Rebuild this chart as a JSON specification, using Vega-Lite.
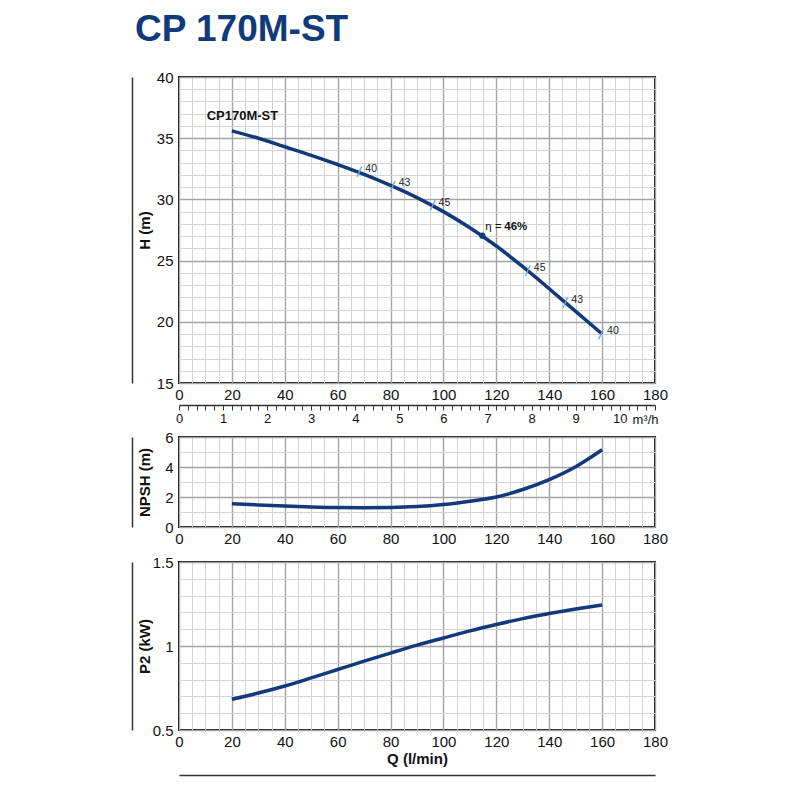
{
  "$schema": "https://vega.github.io/schema/vega-lite/v6.json",
  "padding": {"left": 131, "top": 11, "right": 10, "bottom": 10},
  "background": "white",
  "title": {"text": "CP 170M-ST", "anchor": "start", "font": "Liberation Sans", "fontSize": 37, "fontWeight": "bold", "color": "#0f3b7c", "offset": 20, "dx": 4},
  "datasets": {
    "h": [
      {"q": 20, "v": 35.6}, {"q": 30, "v": 35.0}, {"q": 40, "v": 34.3}, {"q": 50, "v": 33.6},
      {"q": 60, "v": 32.85}, {"q": 70, "v": 32.05}, {"q": 80, "v": 31.15}, {"q": 90, "v": 30.15},
      {"q": 100, "v": 29.0}, {"q": 110, "v": 27.68}, {"q": 120, "v": 26.19}, {"q": 130, "v": 24.5},
      {"q": 140, "v": 22.7}, {"q": 150, "v": 20.85}, {"q": 160, "v": 19.0}
    ],
    "eff": [
      {"q": 68.2, "v": 32.25, "t": "40"}, {"q": 80.8, "v": 31.07, "t": "43"}, {"q": 95.9, "v": 29.5, "t": "45"},
      {"q": 131.9, "v": 24.17, "t": "45"}, {"q": 146.1, "v": 21.55, "t": "43"}, {"q": 159.6, "v": 19.0, "t": "40"}
    ],
    "best": [{"q": 114.7, "v": 27.04, "a": "η =", "b": "46%"}],
    "name": [{"q": 24, "v": 36.8, "t": "CP170M-ST"}],
    "ref": [{"q": 0}],
    "npsh": [
      {"q": 20, "v": 1.55}, {"q": 30, "v": 1.47}, {"q": 40, "v": 1.40}, {"q": 50, "v": 1.34},
      {"q": 60, "v": 1.30}, {"q": 70, "v": 1.29}, {"q": 80, "v": 1.30}, {"q": 90, "v": 1.36},
      {"q": 100, "v": 1.50}, {"q": 110, "v": 1.72}, {"q": 120, "v": 2.0}, {"q": 130, "v": 2.5},
      {"q": 140, "v": 3.16}, {"q": 150, "v": 4.02}, {"q": 160, "v": 5.15}
    ],
    "p2": [
      {"q": 20, "v": 0.683}, {"q": 30, "v": 0.72}, {"q": 40, "v": 0.762}, {"q": 50, "v": 0.81},
      {"q": 60, "v": 0.86}, {"q": 70, "v": 0.91}, {"q": 80, "v": 0.958}, {"q": 90, "v": 1.005},
      {"q": 100, "v": 1.048}, {"q": 110, "v": 1.09}, {"q": 120, "v": 1.128}, {"q": 130, "v": 1.163},
      {"q": 140, "v": 1.193}, {"q": 150, "v": 1.22}, {"q": 160, "v": 1.244}
    ]
  },
  "spacing": 3,
  "vconcat": [
    {
      "spacing": -2,
      "vconcat": [
        {
          "width": 476,
          "height": 306,
          "encoding": {
            "x": {"field": "q", "type": "quantitative", "scale": {"domain": [0, 180], "nice": false},
              "axis": {"values": [0,5,10,15,20,25,30,35,40,45,50,55,60,65,70,75,80,85,90,95,100,105,110,115,120,125,130,135,140,145,150,155,160,165,170,175,180],
                "labelExpr": "datum.value % 20 === 0 ? datum.label : ''", "labelOverlap": false, "labelFlush": false,
                "ticks": false, "domain": false, "labelPadding": 4, "title": null,
                "gridColor": {"condition": {"test": "datum.value % 20 === 0", "value": "#a3a3a3"}, "value": "#d4d4d4"},
                "gridWidth": {"condition": {"test": "datum.value % 20 === 0", "value": 1.4}, "value": 1}}},
            "y": {"field": "v", "type": "quantitative", "scale": {"domain": [15, 40], "nice": false},
              "axis": {"values": [15,16,17,18,19,20,21,22,23,24,25,26,27,28,29,30,31,32,33,34,35,36,37,38,39,40],
                "labelExpr": "datum.value % 5 === 0 ? datum.label : ''", "labelOverlap": false, "labelFlush": false,
                "ticks": false, "domain": true, "domainColor": "#333", "domainWidth": 1.5, "offset": 47, "labelPadding": -41,
                "title": "H (m)", "titleX": 20, "titleY": 153, "titleAngle": -90, "titleBaseline": "bottom",
                "gridColor": {"condition": {"test": "datum.value % 5 === 0", "value": "#a3a3a3"}, "value": "#d4d4d4"},
                "gridWidth": {"condition": {"test": "datum.value % 5 === 0", "value": 1.4}, "value": 1}}}
          },
          "layer": [
            {
              "data": {"name": "h"},
              "mark": {"type": "line", "color": "#12397a", "strokeWidth": 3.5, "interpolate": "monotone"}
            },
            {
              "data": {"name": "eff"},
              "mark": {"type": "point", "shape": "M-0.45,1L0.45,-1", "filled": false, "size": 110, "stroke": "#6fa8dc", "strokeWidth": 1.3, "opacity": 1}
            },
            {
              "data": {"name": "eff"},
              "mark": {"type": "text", "align": "left", "dx": 6, "dy": -3, "fontSize": 10.5, "color": "#222"},
              "encoding": {"text": {"field": "t"}}
            },
            {
              "data": {"name": "best"},
              "mark": {"type": "point", "filled": true, "size": 40, "color": "#12397a", "opacity": 1}
            },
            {
              "data": {"name": "best"},
              "mark": {"type": "text", "align": "left", "dx": 3, "dy": -9, "fontSize": 11.5, "color": "#111"},
              "encoding": {"text": {"field": "a"}}
            },
            {
              "data": {"name": "best"},
              "mark": {"type": "text", "align": "left", "dx": 22, "dy": -9, "fontSize": 11.5, "fontWeight": "bold", "color": "#111"},
              "encoding": {"text": {"field": "b"}}
            },
            {
              "data": {"name": "name"},
              "mark": {"type": "text", "align": "center", "fontSize": 13, "fontWeight": "bold", "color": "#111"},
              "encoding": {"text": {"field": "t"}}
            }
          ]
        },
        {
          "width": 476,
          "height": 1,
          "view": {"stroke": null},
          "data": {"name": "ref"},
          "mark": {"type": "point", "opacity": 0},
          "encoding": {
            "x": {"field": "q", "type": "quantitative", "scale": {"domain": [0, 180], "nice": false},
              "axis": {"orient": "bottom",
                "values": [0,3.33333,6.66667,10,13.33333,16.66667,20,23.33333,26.66667,30,33.33333,36.66667,40,43.33333,46.66667,50,53.33333,56.66667,60,63.33333,66.66667,70,73.33333,76.66667,80,83.33333,86.66667,90,93.33333,96.66667,100,103.33333,106.66667,110,113.33333,116.66667,120,123.33333,126.66667,130,133.33333,136.66667,140,143.33333,146.66667,150,153.33333,156.66667,160,163.33333,166.66667,170,173.33333,176.66667,180],
                "labelExpr": "abs(datum.value / 16.666667 - round(datum.value / 16.666667)) < 0.01 ? format(round(datum.value / 16.666667), 'd') : ''",
                "labelOverlap": false, "labelFlush": false, "labelFontSize": 13, "labelPadding": 2,
                "ticks": true, "tickSize": 5, "tickColor": "#333", "tickWidth": 1,
                "domain": true, "domainColor": "#333", "domainWidth": 1.3, "grid": false,
                "title": "m³/h", "titleX": 466, "titleY": 14, "titleAlign": "center", "titleBaseline": "middle",
                "titleFontWeight": "normal", "titleFontSize": 13}}
          }
        }
      ]
    },
    {
      "spacing": 7,
      "vconcat": [
        {
          "width": 476,
          "height": 90,
          "data": {"name": "npsh"},
          "mark": {"type": "line", "color": "#12397a", "strokeWidth": 3.5, "interpolate": "monotone"},
          "encoding": {
            "x": {"field": "q", "type": "quantitative", "scale": {"domain": [0, 180], "nice": false},
              "axis": {"values": [0,5,10,15,20,25,30,35,40,45,50,55,60,65,70,75,80,85,90,95,100,105,110,115,120,125,130,135,140,145,150,155,160,165,170,175,180],
                "labelExpr": "datum.value % 20 === 0 ? datum.label : ''", "labelOverlap": false, "labelFlush": false,
                "ticks": false, "domain": false, "labelPadding": 4, "title": null,
                "gridColor": {"condition": {"test": "datum.value % 20 === 0", "value": "#a3a3a3"}, "value": "#d4d4d4"},
                "gridWidth": {"condition": {"test": "datum.value % 20 === 0", "value": 1.4}, "value": 1}}},
            "y": {"field": "v", "type": "quantitative", "scale": {"domain": [0, 6], "nice": false},
              "axis": {"values": [0,1,2,3,4,5,6],
                "labelExpr": "datum.value % 2 === 0 ? datum.label : ''", "labelOverlap": false, "labelFlush": false,
                "ticks": false, "domain": true, "domainColor": "#333", "domainWidth": 1.5, "offset": 47, "labelPadding": -41,
                "title": "NPSH (m)", "titleX": 20, "titleY": 45, "titleAngle": -90, "titleBaseline": "bottom",
                "gridColor": {"condition": {"test": "datum.value % 2 === 0", "value": "#a3a3a3"}, "value": "#d4d4d4"},
                "gridWidth": {"condition": {"test": "datum.value % 2 === 0", "value": 1.4}, "value": 1}}}
          }
        },
        {
          "width": 476,
          "height": 168,
          "data": {"name": "p2"},
          "mark": {"type": "line", "color": "#12397a", "strokeWidth": 3.5, "interpolate": "monotone"},
          "encoding": {
            "x": {"field": "q", "type": "quantitative", "scale": {"domain": [0, 180], "nice": false},
              "axis": {"values": [0,5,10,15,20,25,30,35,40,45,50,55,60,65,70,75,80,85,90,95,100,105,110,115,120,125,130,135,140,145,150,155,160,165,170,175,180],
                "labelExpr": "datum.value % 20 === 0 ? datum.label : ''", "labelOverlap": false, "labelFlush": false,
                "ticks": false, "domain": true, "domainColor": "#333", "domainWidth": 1.5, "offset": 45, "labelPadding": -41,
                "title": "Q (l/min)", "titleX": 238, "titleY": -17, "titleBaseline": "middle", "titleAlign": "center",
                "gridColor": {"condition": {"test": "datum.value % 20 === 0", "value": "#a3a3a3"}, "value": "#d4d4d4"},
                "gridWidth": {"condition": {"test": "datum.value % 20 === 0", "value": 1.4}, "value": 1}}},
            "y": {"field": "v", "type": "quantitative", "scale": {"domain": [0.5, 1.5], "nice": false},
              "axis": {"values": [0.5,0.6,0.7,0.8,0.9,1,1.1,1.2,1.3,1.4,1.5],
                "labelExpr": "round(datum.value * 10) % 5 === 0 ? '' + datum.value : ''", "labelOverlap": false, "labelFlush": false,
                "ticks": false, "domain": true, "domainColor": "#333", "domainWidth": 1.5, "offset": 47, "labelPadding": -41,
                "title": "P2 (kW)", "titleX": 20, "titleY": 84, "titleAngle": -90, "titleBaseline": "bottom",
                "gridColor": {"condition": {"test": "round(datum.value * 10) % 5 === 0", "value": "#a3a3a3"}, "value": "#d4d4d4"},
                "gridWidth": {"condition": {"test": "round(datum.value * 10) % 5 === 0", "value": 1.4}, "value": 1}}}
          }
        }
      ]
    }
  ],
  "config": {
    "font": "Liberation Sans",
    "view": {"stroke": "#111", "strokeWidth": 2},
    "axis": {"labelFont": "Liberation Sans", "labelFontSize": 15, "labelColor": "#111",
      "titleFont": "Liberation Sans", "titleFontSize": 15, "titleFontWeight": "bold", "titleColor": "#111"},
    "text": {"font": "Liberation Sans"}
  }
}
